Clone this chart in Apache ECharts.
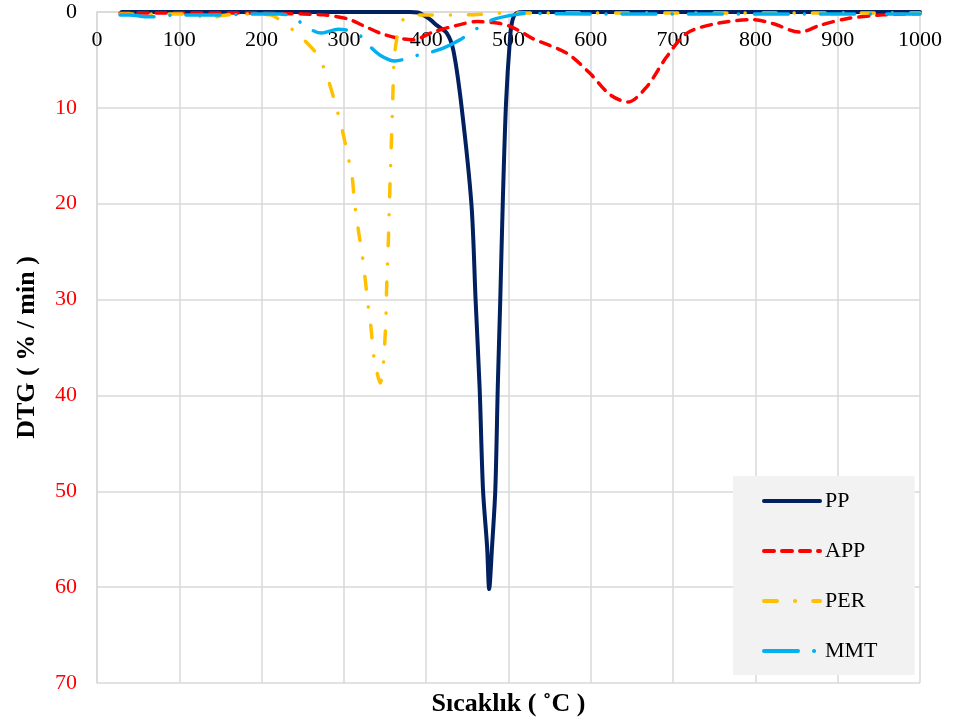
<!DOCTYPE html>
<html>
<head>
<meta charset="utf-8">
<script src="https://cdn.jsdelivr.net/npm/echarts@6/dist/echarts.min.js"></script>
<style>html,body{margin:0;padding:0;background:#fff;}#c{width:953px;height:724px;}</style>
</head>
<body>
<div id="c"></div>
<script>
var seriesNames = ['PP', 'APP', 'PER', 'MMT'];
var xTicks = [0, 100, 200, 300, 400, 500, 600, 700, 800, 900, 1000];
var yTicks = [0, 10, 20, 30, 40, 50, 60, 70];

var ppTemp = [30, 200, 380, 390, 396, 405, 413, 425, 433, 443, 455, 460, 465, 469, 474, 476.5, 480, 484, 487, 490, 493, 497, 502, 505, 510, 520, 1000];
var ppDtg  = [0, 0, 0, 0.05, 0.3, 0.8, 1.4, 2.2, 4, 9.9, 20.1, 30, 39.4, 49.8, 55.8, 60.2, 55.8, 49.8, 39, 30, 20, 9.5, 2.6, 0.8, 0.1, 0, 0];

var appTemp = [28, 100, 200, 226, 275, 304, 323, 344, 364, 384, 408, 437, 462, 481, 490, 502, 518, 530, 571, 599, 623, 645, 668, 692, 717, 753, 797, 821, 854, 878, 911, 955, 1000];
var appDtg  = [0.1, 0.1, 0.1, 0.15, 0.3, 0.7, 1.4, 2.2, 2.7, 2.9, 2.1, 1.4, 1.0, 1.1, 1.2, 1.5, 2.2, 2.8, 4.3, 6.4, 8.6, 9.4, 7.8, 4.7, 2.2, 1.2, 0.8, 1.2, 2.1, 1.4, 0.7, 0.3, 0.15];

var perTemp = [28, 80, 120, 134, 150, 180, 210, 228, 249, 268, 279, 289, 298, 304, 310, 313, 318, 322, 326, 329, 333, 336, 340, 344, 347, 349, 351, 352, 354, 355, 357, 359, 361, 364, 368, 375, 389, 450, 500, 1000];
var perDtg  = [0.2, 0.2, 0.3, 0.8, 0.4, 0.2, 0.3, 1.2, 2.7, 4.5, 6.6, 9.4, 12.3, 14.7, 17.2, 19.9, 23, 25.1, 28, 30.3, 33, 35.7, 37.5, 38.7, 37.5, 35.5, 32, 28.5, 24, 20.8, 15.4, 10.2, 5, 2.9, 1.5, 0.5, 0.3, 0.3, 0.1, 0.1];

var mmtTemp = [28, 40, 60, 75, 95, 150, 200, 222, 238, 255, 273, 293, 316, 328, 344, 362, 370, 380, 401, 420, 441, 462, 481, 506, 522, 600, 800, 1000];
var mmtDtg  = [0.3, 0.3, 0.5, 0.5, 0.3, 0.3, 0.2, 0.2, 0.5, 1.6, 2.2, 1.8, 2.2, 3.3, 4.5, 5.1, 5.0, 4.7, 4.3, 3.8, 2.9, 1.7, 0.8, 0.3, 0.15, 0.2, 0.2, 0.2];

function pairs(t, v) { return t.map(function (x, i) { return [x, v[i]]; }); }

var serif = 'Liberation Serif, Times New Roman, serif';
var chart = echarts.init(document.getElementById('c'), null, { renderer: 'canvas' });

var styles = [
  { color: '#002060', width: 4, type: 'solid' },
  { color: '#ff0000', width: 3.5, type: [10, 8] },
  { color: '#ffc000', width: 3.5, type: [13, 18, 0.1, 18] },
  { color: '#00b0f0', width: 3.5, type: [34, 16, 0.1, 16] }
];
var datas = [pairs(ppTemp, ppDtg), pairs(appTemp, appDtg), pairs(perTemp, perDtg), pairs(mmtTemp, mmtDtg)];

chart.setOption({
  animation: false,
  backgroundColor: '#fff',
  grid: { left: 97, top: 12, right: 33, bottom: 41, containLabel: false },
  legend: {
    orient: 'vertical',
    left: 733, top: 476,
    padding: [14, 37, 13, 29],
    backgroundColor: '#f2f2f2',
    itemWidth: 56, itemHeight: 14, itemGap: 28,
    itemStyle: { opacity: 0 },
    lineStyle: { width: 4, cap: 'round' },
    textStyle: { fontFamily: serif, fontSize: 22, color: '#000' },
    data: seriesNames
  },
  xAxis: [{
    type: 'value', position: 'top', min: 0, max: 1000, interval: 100,
    axisLine: { show: true, lineStyle: { color: '#d9d9d9', width: 1.5 } },
    axisTick: { show: false },
    axisLabel: { inside: true, margin: 17, fontFamily: serif, fontSize: 22, color: '#000',
      formatter: function (v) { return String(v); } },
    splitLine: { show: true, lineStyle: { color: '#d9d9d9', width: 1.5 } }
  }, {
    type: 'value', position: 'bottom', min: 0, max: 1000,
    name: 'Sıcaklık ( ˚C )', nameLocation: 'middle', nameGap: 8,
    nameTextStyle: { fontFamily: serif, fontSize: 26, fontWeight: 'bold', color: '#000' },
    axisLine: { show: false }, axisTick: { show: false }, axisLabel: { show: false }, splitLine: { show: false }
  }],
  yAxis: {
    type: 'value', inverse: true, min: 0, max: 70, interval: 10,
    name: 'DTG ( % / min )', nameLocation: 'middle', nameGap: 57,
    nameTextStyle: { fontFamily: serif, fontSize: 26, fontWeight: 'bold', color: '#000' },
    axisLine: { show: true, lineStyle: { color: '#d9d9d9', width: 1.5 } },
    axisTick: { show: false },
    axisLabel: {
      margin: 20, fontFamily: serif, fontSize: 22,
      formatter: function (v) { return String(v); },
      color: function (val) { return Number(val) === 0 ? '#000' : '#ff0000'; }
    },
    splitLine: { show: true, lineStyle: { color: '#d9d9d9', width: 1.5 } }
  },
  series: seriesNames.map(function (n, i) {
    return {
      name: n, type: 'line', xAxisIndex: 0, data: datas[i], smooth: 0.3,
      symbol: 'none', showSymbol: false,
      lineStyle: { color: styles[i].color, width: styles[i].width, type: styles[i].type, cap: 'round' },
      itemStyle: { color: styles[i].color }
    };
  })
});
</script>
</body>
</html>
